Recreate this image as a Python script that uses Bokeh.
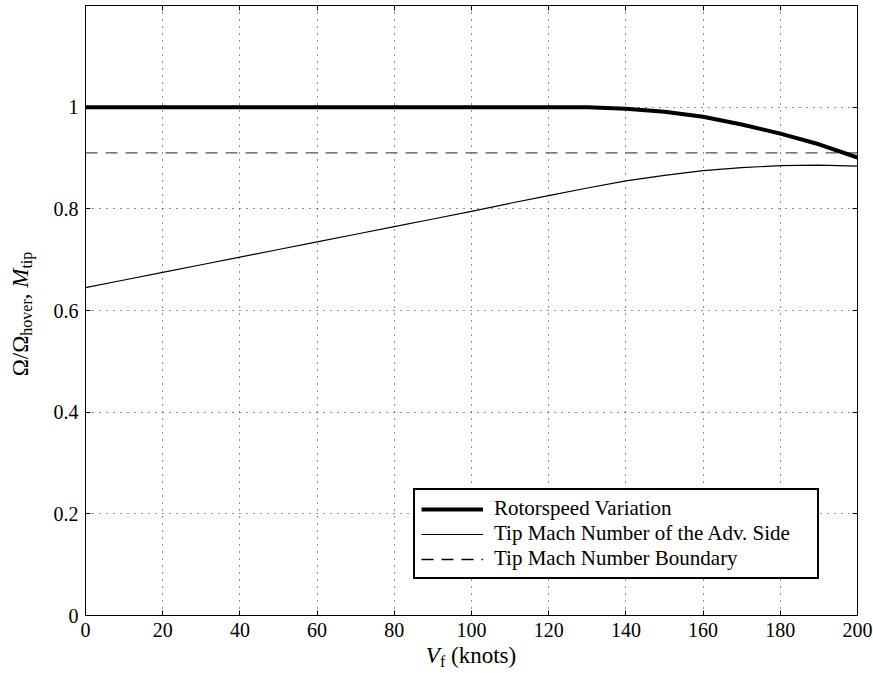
from bokeh.plotting import figure
from bokeh.models import (Range1d, FixedTicker, LinearAxis, CustomJSTickFormatter,
                          Legend, LegendItem, ColumnDataSource, Div)
from bokeh.layouts import row, column
from bokeh.embed import file_html
from bokeh.resources import INLINE

# ---- data ----
speed_knots = [0, 10, 20, 30, 40, 50, 60, 70, 80, 90, 100,
               110, 120, 130, 140, 150, 160, 170, 180, 190, 200]
rotor_speed = [1.0, 1.0, 1.0, 1.0, 1.0, 1.0, 1.0, 1.0, 1.0, 1.0, 1.0,
               1.0, 1.0, 1.0, 0.997, 0.991, 0.981, 0.966, 0.948, 0.927, 0.901]
tip_mach = [0.645, 0.660, 0.675, 0.690, 0.705, 0.720, 0.735, 0.750, 0.765, 0.780, 0.795,
            0.811, 0.826, 0.841, 0.855, 0.866, 0.875, 0.881, 0.885, 0.886, 0.884]
boundary_x = [0, 200]
boundary_mach = [0.91, 0.91]

x_ticks = [0, 20, 40, 60, 80, 100, 120, 140, 160, 180, 200]
y_ticks = [0, 0.2, 0.4, 0.6, 0.8, 1.0]
legend_labels = ["Rotorspeed Variation", "Tip Mach Number of the Adv. Side",
                 "Tip Mach Number Boundary"]

FONT = "Liberation Serif"
TICK_SIZE = "20px"
YLAB_W = 45   # width of the y-label strip
XLAB_H = 28   # height of the x-label strip
W, H = 873, 673

p = figure(width=W - YLAB_W, height=H - XLAB_H, output_backend="svg", toolbar_location=None,
           x_range=Range1d(0, 200), y_range=Range1d(0, 1.2),
           min_border_left=85 - YLAB_W, min_border_right=16, min_border_top=5,
           min_border_bottom=(H - XLAB_H) - 615, margin=0)
p.background_fill_color = "white"
p.border_fill_color = "white"
p.outline_line_color = "black"
p.outline_line_width = 1

yfmt = CustomJSTickFormatter(code="return Number(tick.toFixed(1)).toString();")
blank = CustomJSTickFormatter(code="return '';")

for ax in (p.xaxis[0], p.yaxis[0]):
    ax.major_tick_in = 5
    ax.major_tick_out = 0
    ax.minor_tick_in = 0
    ax.minor_tick_out = 0
    ax.axis_line_color = "black"
    ax.major_tick_line_color = "black"
    ax.major_label_text_font = FONT
    ax.major_label_text_font_size = TICK_SIZE
    ax.major_label_text_color = "black"
    ax.major_label_standoff = 7
p.xaxis[0].ticker = FixedTicker(ticks=x_ticks)
p.yaxis[0].ticker = FixedTicker(ticks=y_ticks)
p.yaxis[0].formatter = yfmt

right = LinearAxis(ticker=FixedTicker(ticks=y_ticks), formatter=blank,
                   major_tick_in=5, major_tick_out=0, minor_tick_in=0, minor_tick_out=0,
                   major_label_text_font_size="1px", major_label_standoff=0,
                   axis_line_color="black")
top = LinearAxis(ticker=FixedTicker(ticks=x_ticks), formatter=blank,
                 major_tick_in=5, major_tick_out=0, minor_tick_in=0, minor_tick_out=0,
                 major_label_text_font_size="1px", major_label_standoff=0,
                 axis_line_color="black")
p.add_layout(right, "right")
p.add_layout(top, "above")

p.xgrid.ticker = FixedTicker(ticks=x_ticks)
p.ygrid.ticker = FixedTicker(ticks=y_ticks)
for g in (p.xgrid[0], p.ygrid[0]):
    g.grid_line_color = "#222222"
    g.grid_line_dash = "1 6"
    g.grid_line_width = 1

src = ColumnDataSource(dict(x=speed_knots, rotor=rotor_speed, mach=tip_mach))
bsrc = ColumnDataSource(dict(x=boundary_x, y=boundary_mach))

r_bound = p.line("x", "y", source=bsrc, line_color="#505050", line_width=1.2, line_dash="12 8")
r_mach = p.line("x", "mach", source=src, line_color="black", line_width=1.2)
r_rotor = p.line("x", "rotor", source=src, line_color="black", line_width=4)
# legend proxy for the dashed boundary (black in the legend, hidden in the plot)
proxy = p.line("x", "y", source=bsrc, line_color="black", line_width=1.6,
               line_dash="12 8", visible=False)

legend = Legend(items=[LegendItem(label=legend_labels[0], renderers=[r_rotor]),
                       LegendItem(label=legend_labels[1], renderers=[r_mach]),
                       LegendItem(label=legend_labels[2], renderers=[proxy])],
                location=(328, 36), margin=0, padding=6, spacing=0,
                glyph_width=62, glyph_height=24, label_height=24, label_width=317,
                label_standoff=11,
                label_text_font=FONT, label_text_font_size="21px",
                label_text_color="black", label_text_baseline="middle",
                border_line_color="black", border_line_width=2, border_line_alpha=1,
                background_fill_color="white", background_fill_alpha=1)
p.add_layout(legend, "center")

# ---- axis labels as real HTML text (with subscript pieces) ----
SUB = "font-size:16px;position:relative;top:4px;"
ylab_html = (
    f'<div style="position:relative;width:{YLAB_W}px;height:{H}px;">'
    f'<div style="position:absolute;left:20.7px;top:314px;'
    f'transform:translate(-50%,-50%) rotate(-90deg);white-space:nowrap;'
    f'font-family:\'{FONT}\';font-size:23px;line-height:23px;color:black;">'
    f'Ω/Ω<span style="{SUB}">hover</span>, <i>M</i><span style="{SUB}">tip</span>'
    f'</div></div>'
)
xlab_html = (
    f'<div style="position:relative;width:{W - YLAB_W}px;height:{XLAB_H}px;">'
    f'<div style="position:absolute;left:{471 - YLAB_W}px;top:-1px;'
    f'transform:translateX(-50%);white-space:nowrap;'
    f'font-family:\'{FONT}\';font-size:23px;line-height:23px;color:black;">'
    f'<i>V</i><span style="{SUB}">f</span> (knots)'
    f'</div></div>'
)
ydiv = Div(text=ylab_html, width=YLAB_W, height=H, margin=0)
xdiv = Div(text=xlab_html, width=W - YLAB_W, height=XLAB_H, margin=0)

layout = row(column(ydiv, margin=0), column(p, xdiv, margin=0), margin=0)
open("out.html", "w").write(file_html(layout, INLINE))
